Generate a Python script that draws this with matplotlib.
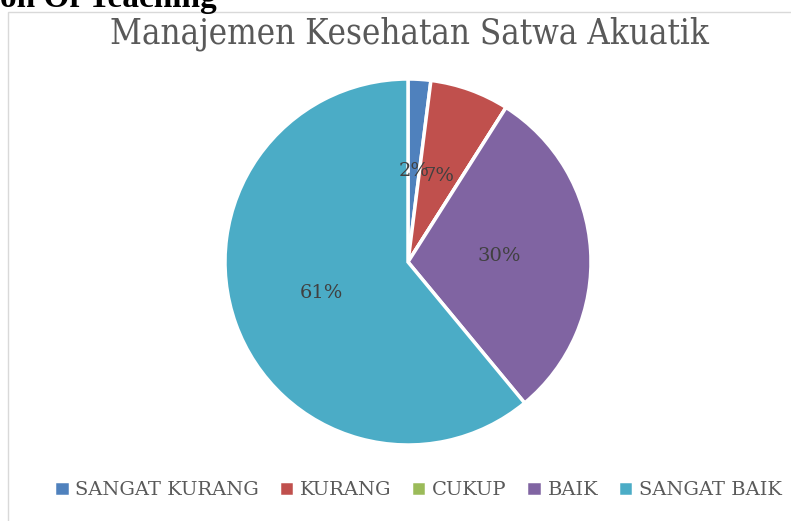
import matplotlib.pyplot as plt
from matplotlib.patches import Rectangle

# data
categories = ['SANGAT KURANG', 'KURANG', 'CUKUP', 'BAIK', 'SANGAT BAIK']
values = [2, 7, 0, 30, 61]
colors = ['#4F81BD', '#C0504D', '#9BBB59', '#8064A2', '#4BACC6']

plt.rcParams['font.family'] = ['DejaVu Serif']

fig = plt.figure(figsize=(7.91, 5.21), dpi=100)

# chart frame
fig.patches.append(Rectangle((8 / 791, -0.01), 0.999, (521 - 12) / 521 + 0.01,
                             transform=fig.transFigure, fill=False,
                             edgecolor='#D9D9D9', linewidth=1))

# cut-off document heading above the chart
fig.text(0.0, 1 - 7 / 521, 'on Of Teaching', fontsize=24, fontweight='bold',
         family='Liberation Serif', va='baseline', ha='left')

fig.text(409 / 791, 1 - 34 / 521, 'Manajemen Kesehatan Satwa Akuatik',
         fontsize=25, color='#595959', ha='center', va='center',
         family='DejaVu Serif', fontstretch='condensed')

ax = fig.add_axes([(408 - 183) / 791, 1 - (262 + 183) / 521, 366 / 791, 366 / 521])


def fmt(p):
    return '%d%%' % round(p) if p > 0.5 else ''


wedges, texts, autotexts = ax.pie(values, colors=colors, startangle=90,
                                  counterclock=False, autopct=fmt,
                                  pctdistance=0.5,
                                  wedgeprops=dict(edgecolor='white', linewidth=2.5),
                                  textprops=dict(fontsize=14, color='#404040'))
ax.set_aspect('equal')
ax.set_xlim(-1, 1)
ax.set_ylim(-1, 1)

leg = fig.legend(wedges, categories, loc='center', ncol=5,
                 bbox_to_anchor=(418 / 791, 1 - 490 / 521), frameon=False,
                 handlelength=0.8, handleheight=0.8, handletextpad=0.3,
                 columnspacing=1.0, prop=dict(size=14))
for t in leg.get_texts():
    t.set_color('#595959')

fig.savefig('out.png', dpi=100)
